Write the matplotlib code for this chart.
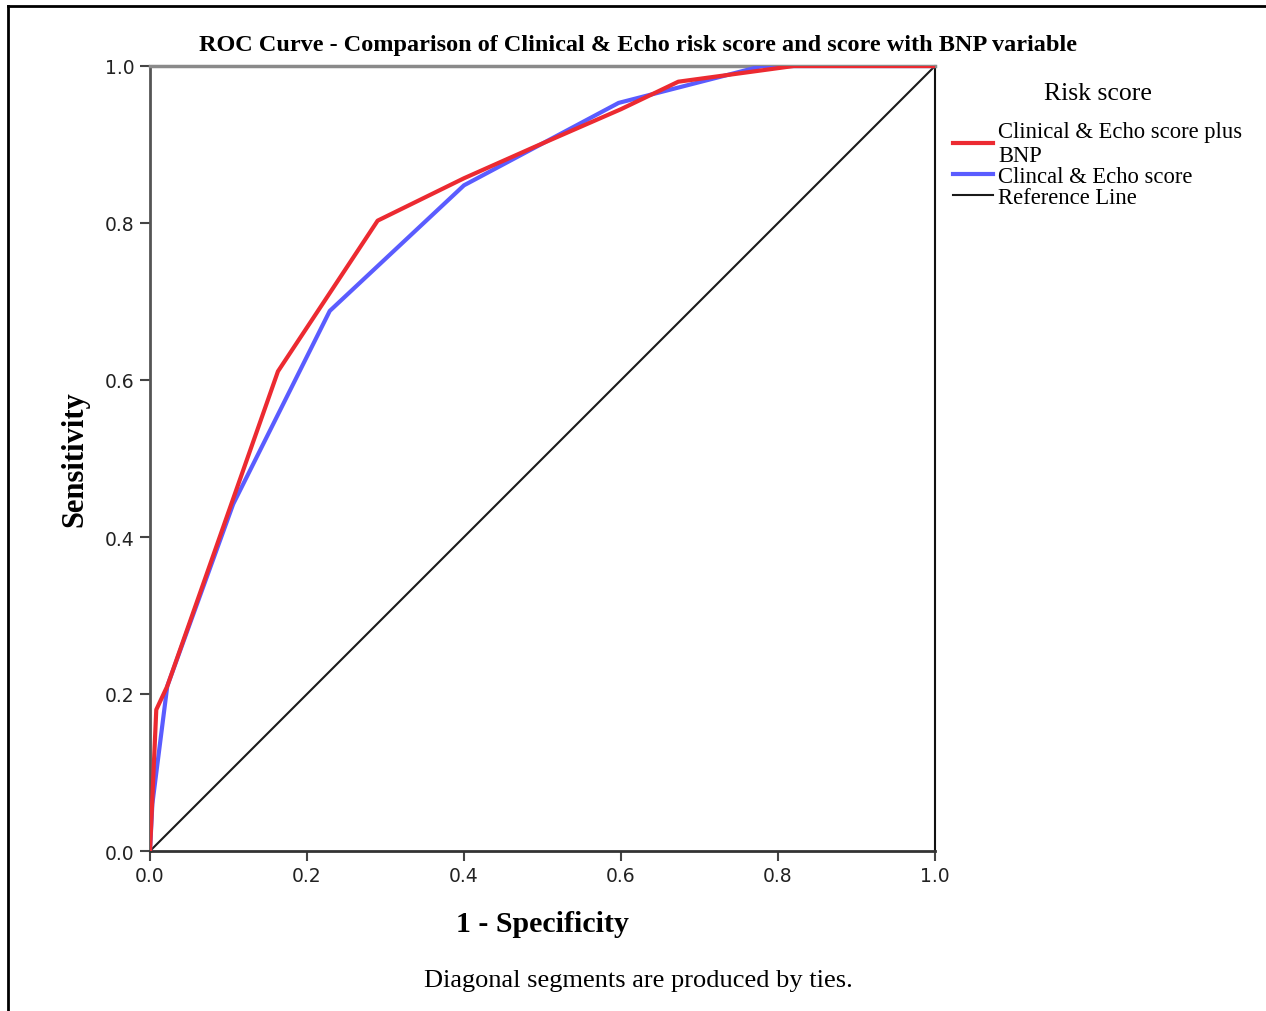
import numpy as np
import matplotlib.pyplot as plt
from matplotlib.lines import Line2D

# ROC points (1 - specificity, sensitivity)
fpr_bnp = [0.0, 0.008, 0.022, 0.163, 0.29, 0.40, 0.49, 0.60, 0.673, 0.82, 1.0]
tpr_bnp = [0.0, 0.180, 0.210, 0.611, 0.803, 0.857, 0.897, 0.945, 0.980, 1.0, 1.0]

fpr_echo = [0.0, 0.003, 0.022, 0.106, 0.229, 0.40, 0.597, 0.78, 1.0]
tpr_echo = [0.0, 0.060, 0.210, 0.442, 0.688, 0.848, 0.953, 1.0, 1.0]

ref_line = [0.0, 1.0]

labels = ['Clinical & Echo score plus\nBNP', 'Clincal & Echo score', 'Reference Line']
colors = ['#ec2a31', '#5a5cff', '#1a1a1a']
ticks = [0.0, 0.2, 0.4, 0.6, 0.8, 1.0]

serif = 'Liberation Serif'

fig = plt.figure(figsize=(12.66, 10.12), dpi=100)
ax = fig.add_axes([150 / 1266, 1 - 852 / 1012, 785 / 1266, 785 / 1012])

ax.plot(ref_line, ref_line, color=colors[2], lw=1.5, zorder=2)
ax.plot(fpr_echo, tpr_echo, color=colors[1], lw=3, zorder=3)
ax.plot(fpr_bnp, tpr_bnp, color=colors[0], lw=3, zorder=3)

ax.set_xlim(0, 1)
ax.set_ylim(0, 1)
ax.set_xticks(ticks)
ax.set_yticks(ticks)
ax.set_xticklabels([f'{t:.1f}' for t in ticks])
ax.set_yticklabels([f'{t:.1f}' for t in ticks])
ax.tick_params(direction='out', length=7, width=1.5, color='#444444',
               labelsize=13.5, labelcolor='#222222', pad=4)
for lab in ax.get_xticklabels() + ax.get_yticklabels():
    lab.set_family('DejaVu Sans')

ax.spines['top'].set_color('#8a8a8a')
ax.spines['top'].set_linewidth(2.5)
ax.spines['left'].set_color('#555555')
ax.spines['left'].set_linewidth(2)
ax.spines['bottom'].set_color('#333333')
ax.spines['bottom'].set_linewidth(2)
ax.spines['right'].set_color('#111111')
ax.spines['right'].set_linewidth(1.5)

ax.set_xlabel('1 - Specificity', family=serif, fontweight='bold', fontsize=21.5, labelpad=18)
ax.set_ylabel('Sensitivity', family=serif, fontweight='bold', fontsize=22, labelpad=11)

fig.text(638 / 1266, 1 - 46 / 1012,
         'ROC Curve - Comparison of Clinical & Echo risk score and score with BNP variable',
         family=serif, fontweight='bold', fontsize=17.5, ha='center', va='center')

fig.text(638 / 1266, 1 - 981 / 1012, 'Diagonal segments are produced by ties.',
         family=serif, fontsize=19, ha='center', va='center')

handles = [Line2D([], [], color=c, lw=3 if i < 2 else 1.5) for i, c in enumerate(colors)]
leg = fig.legend(handles, labels, loc='upper left', bbox_to_anchor=(953 / 1266, 1 - 83 / 1012),
                 frameon=False, title='Risk score', handlelength=1.75, handletextpad=0.25,
                 labelspacing=0.0, borderpad=0, borderaxespad=0,
                 prop={'family': serif, 'size': 16.3},
                 title_fontproperties={'family': serif, 'size': 18.5})
leg._legend_box.align = 'center'
leg._legend_box.sep = 12

# outer frame (only top and left visible in the cropped original)
fig.add_artist(Line2D([8 / 1266, 8 / 1266], [0, 1 - 7 / 1012], color='black', lw=2,
                      transform=fig.transFigure))
fig.add_artist(Line2D([8 / 1266, 1], [1 - 7 / 1012, 1 - 7 / 1012], color='black', lw=2,
                      transform=fig.transFigure))

fig.savefig('out.png', dpi=100)
